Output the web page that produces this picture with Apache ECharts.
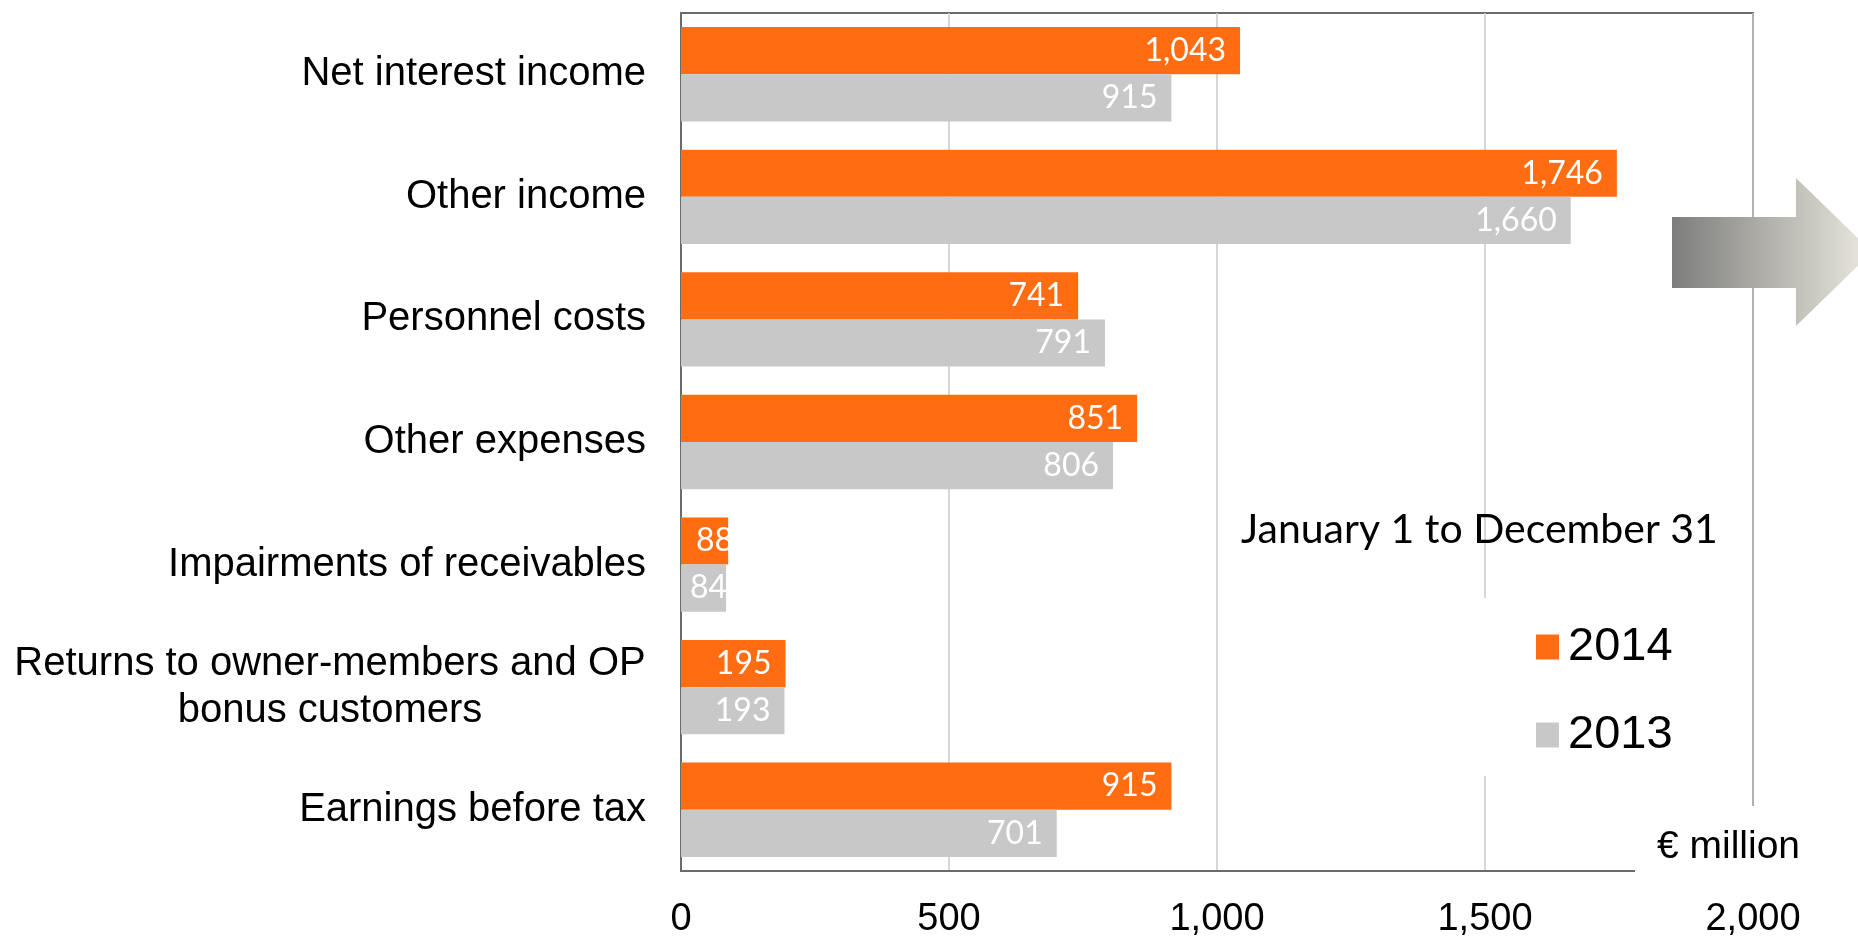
<!DOCTYPE html>
<html>
<head>
<meta charset="utf-8">
<script src="https://cdn.jsdelivr.net/npm/echarts@6/dist/echarts.min.js"></script>
<style>
  html, body { margin: 0; padding: 0; background: #fff; }
  #chart { width: 1858px; height: 939px; }
</style>
</head>
<body>
<div id="chart"></div>
<script>
// Income statement items, top to bottom
const categories = [
  'Net interest income',
  'Other income',
  'Personnel costs',
  'Other expenses',
  'Impairments of receivables',
  'Returns to owner-members and OP\nbonus customers',
  'Earnings before tax'
];
const seriesNames = ['2014', '2013'];
const values2014 = [1043, 1746, 741, 851, 88, 195, 915];
const values2013 = [915, 1660, 791, 806, 84, 193, 701];
const xTicks = [0, 500, 1000, 1500, 2000];
const periodText = 'January 1 to December 31';
const unitText = '€ million';

const ORANGE = '#ff6c12';
const GREY = '#c8c8c8';
const AXIS = '#6b6b6b';
const SANS = "'Liberation Sans', Arial, sans-serif";
const CAL = "Lato, 'Open Sans', sans-serif";
const CAT_SIZE = 40;

// measure text so that wrapped category labels can be centred line by line
const mctx = document.createElement('canvas').getContext('2d');
function textWidth(s, size, family) {
  mctx.font = size + 'px ' + family;
  return Math.ceil(mctx.measureText(s).width);
}
const catRich = { block: { align: 'center', width: 0, fontSize: CAT_SIZE, fontFamily: SANS, color: '#000', lineHeight: 47 } };
function catLabel(v) {
  const lines = v.split('\n');
  if (lines.length === 1) return v;
  return lines.map(l => '{block|' + l + '}').join('\n');
}
// width of the widest wrapped line, so each line is centred in the block
categories.forEach(c => {
  if (c.indexOf('\n') >= 0) {
    catRich.block.width = Math.max(...c.split('\n').map(l => textWidth(l, CAT_SIZE, SANS)));
  }
});

const fmt = v => v.toLocaleString('en-US');

// short bars: start the value label from the bar's base instead of its end
function barData(values, startOffset) {
  return values.map(v => v < 120
    ? { value: v, label: { position: 'insideLeft', distance: startOffset } }
    : v);
}

const chart = echarts.init(document.getElementById('chart'), null, { renderer: 'canvas' });

const valueLabel = {
  show: true,
  position: 'insideRight',
  distance: 14,
  color: '#fff',
  fontFamily: CAL,
  fontSize: 32,
  formatter: p => fmt(p.value)
};

chart.setOption({
  animation: false,
  backgroundColor: '#fff',
  grid: {
    left: 681, right: 105, top: 13, bottom: 68,
    containLabel: false,
    outerBoundsMode: 'none',
    show: true, borderColor: AXIS, borderWidth: 2, backgroundColor: 'transparent'
  },
  legend: {
    data: seriesNames,
    orient: 'vertical',
    left: 1470,
    top: 598,
    backgroundColor: '#fff',
    padding: [24, 20, 16, 66],
    itemWidth: 23,
    itemHeight: 25,
    itemGap: 38,
    icon: 'rect',
    textStyle: { fontFamily: SANS, fontSize: 47, color: '#000', lineHeight: 50, padding: [0, 0, 0, 4] }
  },
  xAxis: {
    type: 'value',
    min: xTicks[0],
    max: xTicks[xTicks.length - 1],
    interval: xTicks[1] - xTicks[0],
    axisLine: { show: true, lineStyle: { color: AXIS, width: 2 } },
    axisTick: { show: false },
    splitLine: { show: true, lineStyle: { color: GREY, width: 1.5 } },
    axisLabel: {
      margin: 30,
      color: '#000',
      fontFamily: SANS,
      fontSize: 38,
      formatter: v => fmt(v)
    }
  },
  yAxis: {
    type: 'category',
    inverse: true,
    data: categories,
    axisLine: { show: true, lineStyle: { color: AXIS, width: 2 } },
    axisTick: { show: false },
    splitLine: { show: false },
    axisLabel: {
      margin: 35,
      color: '#000',
      fontFamily: SANS,
      fontSize: CAT_SIZE,
      lineHeight: 47,
      formatter: catLabel,
      rich: catRich
    }
  },
  series: [
    {
      name: seriesNames[0],
      type: 'bar',
      data: barData(values2014, 15),
      itemStyle: { color: ORANGE },
      barGap: '0%',
      barCategoryGap: '23%',
      label: valueLabel
    },
    {
      name: seriesNames[1],
      type: 'bar',
      data: barData(values2013, 9),
      itemStyle: { color: GREY },
      barGap: '0%',
      barCategoryGap: '23%',
      label: valueLabel
    }
  ],
  graphic: [
    {
      type: 'polygon',
      z: 50,
      shape: {
        points: [[1672, 217], [1796, 217], [1796, 178], [1872, 252], [1796, 326], [1796, 288], [1672, 288]]
      },
      style: {
        fill: new echarts.graphic.LinearGradient(0, 0, 1, 0, [
          { offset: 0, color: '#7d7d7d' },
          { offset: 0.5, color: '#b4b3ad' },
          { offset: 1, color: '#ebe9df' }
        ])
      }
    },
    {
      type: 'text',
      z: 50,
      left: 1241,
      top: 509,
      style: { text: periodText, fontFamily: CAL, fontSize: 41, fill: '#000' }
    },
    {
      type: 'text',
      z: 100,
      left: 1635,
      top: 806,
      style: {
        text: unitText,
        fontFamily: SANS,
        fontSize: 39,
        lineHeight: 42,
        fill: '#000',
        backgroundColor: '#fff',
        padding: [20, 60, 12, 22]
      }
    }
  ]
});
</script>
</body>
</html>
